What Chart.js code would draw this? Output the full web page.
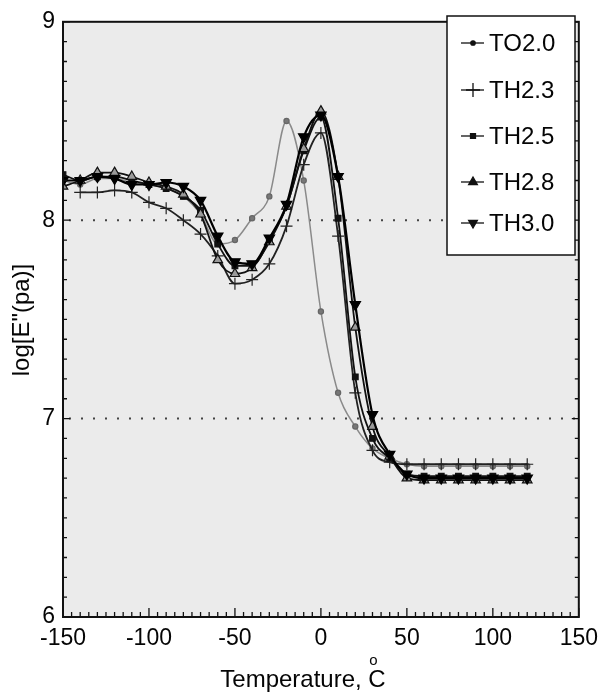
<!DOCTYPE html>
<html>
<head>
<meta charset="utf-8">
<script src="https://cdn.jsdelivr.net/npm/chart.js@4.4.1/dist/chart.umd.min.js"></script>
<style>
  html, body { margin: 0; padding: 0; background: #fff; }
  canvas { display: block; }
</style>
</head>
<body>
<canvas id="myChart" width="606" height="698"></canvas>
<script>
// temperatures (deg C) where the points were measured
const temps = [-150, -140, -130, -120, -110, -100, -90, -80, -70, -60, -50, -40, -30, -20,
  -10, 0, 10, 20, 30, 40, 50, 60, 70, 80, 90, 100, 110, 120];

// log E'' values
const to20 = [8.20, 8.18, 8.21, 8.21, 8.19, 8.18, 8.16, 8.12, 8.03, 7.88, 7.90, 8.01, 8.12, 8.50,
  8.20, 7.54, 7.13, 6.96, 6.85, 6.80, 6.77, 6.76, 6.76, 6.76, 6.76, 6.76, 6.76, 6.76];
const th23 = [null, 8.14, 8.14, 8.15, 8.14, 8.09, 8.06, 8.00, 7.93, 7.82, 7.68, 7.70, 7.78, 7.97,
  8.28, 8.44, 7.92, 7.13, 6.84, 6.78, 6.77, 6.77, 6.77, 6.77, 6.77, 6.77, 6.77, 6.77];
const th25 = [8.23, 8.20, 8.22, 8.22, 8.20, 8.18, 8.16, 8.12, 8.05, 7.88, 7.77, 7.77, 7.90, 8.07,
  8.35, 8.52, 8.01, 7.21, 6.90, 6.80, 6.72, 6.71, 6.71, 6.71, 6.71, 6.71, 6.71, 6.71];
const th28 = [8.17, 8.20, 8.24, 8.24, 8.22, 8.19, 8.17, 8.13, 8.03, 7.80, 7.73, 7.76, 7.89, 8.07,
  8.36, 8.55, 8.22, 7.46, 6.96, 6.81, 6.70, 6.69, 6.69, 6.69, 6.69, 6.69, 6.69, 6.69];
const th30 = [8.20, 8.20, 8.22, 8.21, 8.18, 8.18, 8.19, 8.17, 8.10, 7.92, 7.79, 7.78, 7.91, 8.08,
  8.42, 8.53, 8.22, 7.575, 7.02, 6.82, 6.72, 6.70, 6.70, 6.70, 6.70, 6.70, 6.70, 6.70];

const seriesNames = ["TO2.0", "TH2.3", "TH2.5", "TH2.8", "TH3.0"];
const yTicks = [6, 7, 8, 9];
const xTicks = [-150, -100, -50, 0, 50, 100, 150];
const dottedLevels = [7, 8];

const FONT = "'Liberation Sans', Arial, sans-serif";
const INK = "#050505";
const ctx = document.getElementById("myChart");

function toPoints(vals) {
  return temps.map((t, i) => ({ x: t, y: vals[i] }));
}

// background, frame, inward ticks, dotted levels, titles and the boxed legend
const decorPlugin = {
  id: "decor",
  beforeDatasetsDraw(chart) {
    const { ctx: c, chartArea: a, scales } = chart;
    c.save();
    c.fillStyle = "#ebebeb";
    c.fillRect(a.left, a.top, a.right - a.left, a.bottom - a.top);
    c.strokeStyle = "#444";
    c.lineWidth = 2;
    c.setLineDash([2, 10]);
    dottedLevels.forEach((v) => {
      const y = scales.y.getPixelForValue(v);
      c.beginPath();
      c.moveTo(a.left + 6, y);
      c.lineTo(a.right, y);
      c.stroke();
    });
    c.restore();
  },
  afterDraw(chart) {
    const { ctx: c, chartArea: a, scales } = chart;
    c.save();
    c.strokeStyle = "#111";
    c.lineWidth = 1.3;
    // x ticks every 5 deg, pointing inward
    for (let t = -150; t <= 150; t += 5) {
      const x = scales.x.getPixelForValue(t);
      const len = t % 50 === 0 ? 9 : 5;
      c.beginPath();
      c.moveTo(x, a.bottom);
      c.lineTo(x, a.bottom - len);
      c.stroke();
    }
    // y ticks every 0.1
    for (let k = 0; k <= 30; k++) {
      const y = scales.y.getPixelForValue(6 + k / 10);
      const len = k % 10 === 0 ? 7 : 4;
      c.beginPath();
      c.moveTo(a.left, y);
      c.lineTo(a.left + len, y);
      c.moveTo(a.right, y);
      c.lineTo(a.right - len, y);
      c.stroke();
    }
    c.lineWidth = 2;
    c.strokeRect(a.left, a.top, a.right - a.left, a.bottom - a.top);

    // axis titles
    c.fillStyle = INK;
    c.font = "24px " + FONT;
    c.textBaseline = "alphabetic";
    c.textAlign = "left";
    const t1 = "Temperature, ";
    const w1 = c.measureText(t1).width;
    const wC = c.measureText("C").width;
    const x0 = 303 - (w1 + wC) / 2;
    c.fillText(t1, x0, 687);
    c.fillText("C", x0 + w1, 687);
    c.font = "15px " + FONT;
    c.fillText("o", x0 + w1 + 1, 665);

    c.save();
    c.translate(29, 320);
    c.rotate(-Math.PI / 2);
    c.textAlign = "center";
    c.font = "24px " + FONT;
    c.fillText('log[E"(pa)]', 0, 0);
    c.restore();

    // legend box
    const lx = 447, ly = 16, lw = 128, lh = 239;
    c.fillStyle = "#fff";
    c.fillRect(lx, ly, lw, lh);
    c.strokeStyle = "#111";
    c.lineWidth = 1.5;
    c.strokeRect(lx, ly, lw, lh);
    const rowY = [43, 90, 136, 182, 223];
    chart.data.datasets.forEach((ds, i) => {
      const y = rowY[i];
      c.strokeStyle = "#111";
      c.lineWidth = 1.3;
      c.beginPath();
      c.moveTo(461, y);
      c.lineTo(484, y);
      c.stroke();
      c.fillStyle = "#111";
      c.strokeStyle = "#111";
      Chart.helpers.drawPoint(c, {
        pointStyle: ds.pointStyle,
        rotation: ds.pointRotation || 0,
        radius: ds.legendRadius,
        borderWidth: 1.2
      }, 473, y);
      c.fillStyle = INK;
      c.font = "24px " + FONT;
      c.textAlign = "left";
      c.textBaseline = "middle";
      c.fillText(ds.label, 489, y + 1);
    });
    c.restore();
  }
};

const common = {
  fill: false,
  cubicInterpolationMode: "monotone",
  spanGaps: false,
  borderWidth: 1.8,
  pointBorderWidth: 1.2
};

new Chart(ctx, {
  type: "line",
  data: {
    datasets: [
      Object.assign({}, common, {
        label: seriesNames[0], data: toPoints(to20), order: 10,
        borderColor: "#8a8a8a", borderWidth: 1.5,
        pointStyle: "circle", pointRadius: 2.6, legendRadius: 2.2,
        pointBackgroundColor: "#777", pointBorderColor: "#666"
      }),
      Object.assign({}, common, {
        label: seriesNames[1], data: toPoints(th23), order: 4,
        borderColor: "#222",
        pointStyle: "cross", pointRadius: 6, legendRadius: 7,
        pointBackgroundColor: "#222", pointBorderColor: "#222"
      }),
      Object.assign({}, common, {
        label: seriesNames[2], data: toPoints(th25), order: 3,
        borderColor: "#111",
        pointStyle: "rect", pointRadius: 4, legendRadius: 3.5,
        pointBackgroundColor: "#111", pointBorderColor: "#111"
      }),
      Object.assign({}, common, {
        label: seriesNames[3], data: toPoints(th28), order: 2,
        borderColor: "#111",
        pointStyle: "triangle", pointRadius: 5.5, legendRadius: 5,
        pointBackgroundColor: "#9a9a9a", pointBorderColor: "#111"
      }),
      Object.assign({}, common, {
        label: seriesNames[4], data: toPoints(th30), order: 1,
        borderColor: "#000", borderWidth: 2.2,
        pointStyle: "triangle", pointRotation: 180, pointRadius: 6, legendRadius: 5,
        pointBackgroundColor: "#000", pointBorderColor: "#000"
      })
    ]
  },
  options: {
    responsive: false,
    animation: false,
    devicePixelRatio: 1,
    layout: { padding: { left: 0, top: 16, right: 25, bottom: 0 } },
    plugins: {
      legend: { display: false },
      tooltip: { enabled: false }
    },
    scales: {
      x: {
        type: "linear",
        min: -150,
        max: 150,
        afterFit: (s) => { s.height = 81; },
        afterBuildTicks: (s) => { s.ticks = xTicks.map((v) => ({ value: v })); },
        grid: { display: false, drawTicks: false },
        border: { display: false },
        ticks: {
          padding: 8,
          color: INK,
          font: { family: FONT, size: 23 }
        }
      },
      y: {
        min: 6,
        max: 9,
        afterFit: (s) => { s.width = 63; },
        afterBuildTicks: (s) => { s.ticks = yTicks.map((v) => ({ value: v })); },
        grid: { display: false, drawTicks: false },
        border: { display: false },
        ticks: {
          padding: 8,
          color: INK,
          font: { family: FONT, size: 23 }
        }
      }
    }
  },
  plugins: [decorPlugin]
});
</script>
</body>
</html>
